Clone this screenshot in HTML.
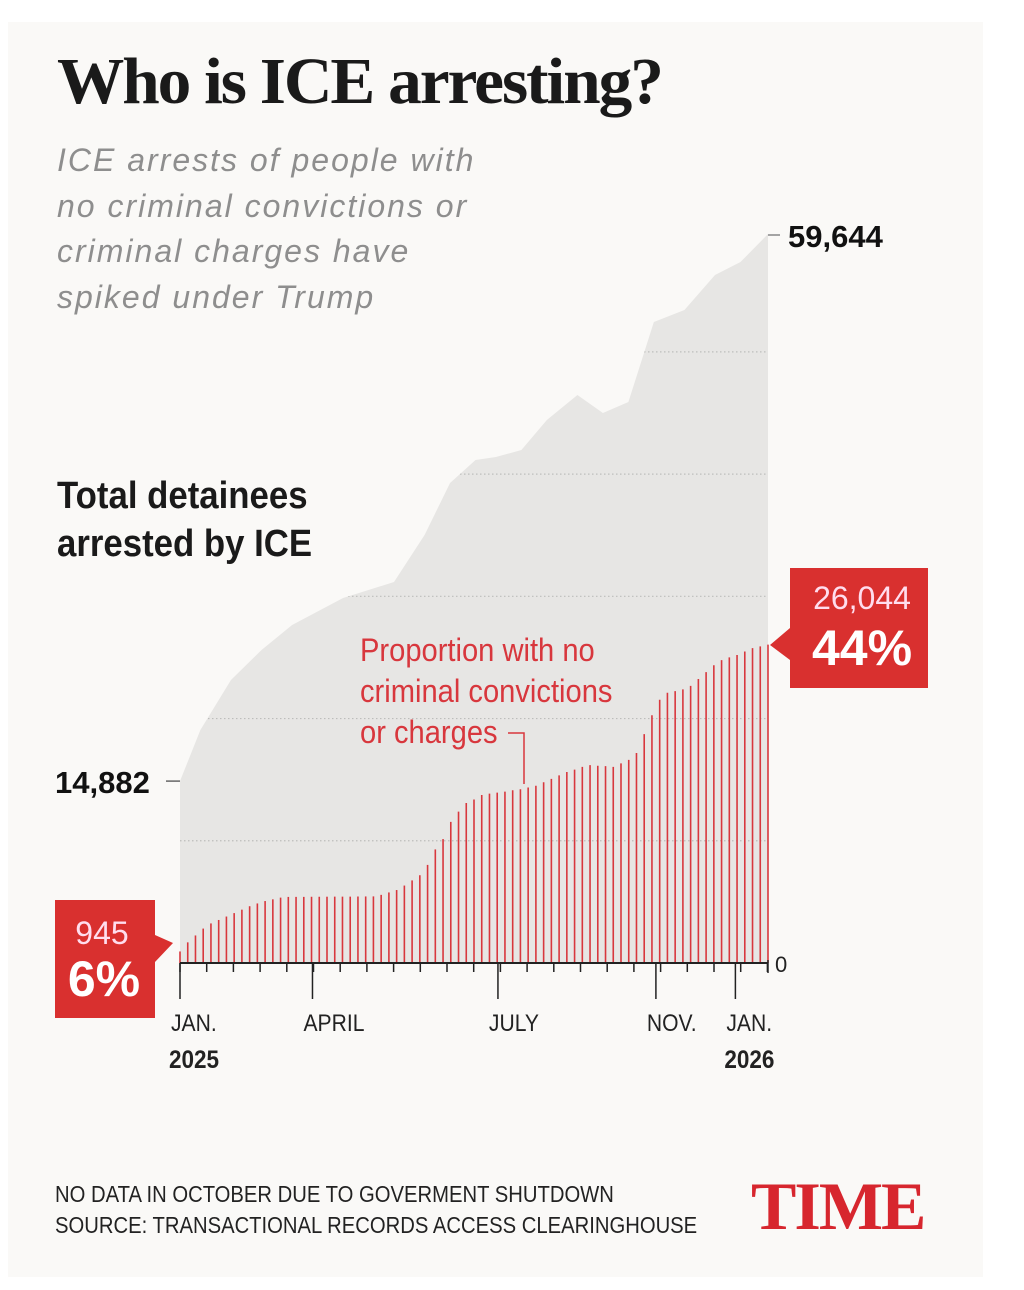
<!DOCTYPE html>
<html><head><meta charset="utf-8"><style>
body{margin:0;background:#fff;}
#card{position:absolute;left:8px;top:22px;width:975px;height:1255px;background:#faf9f7;}
.t{position:absolute;white-space:nowrap;}
</style></head><body>
<div id="card"></div>
<div class="t" style="left:57px;top:44px;font:bold 66px 'Liberation Serif',serif;letter-spacing:-2px;color:#1a1a1a;transform:scaleX(1.02);transform-origin:left;">Who is ICE arresting?</div>
<div class="t" style="left:57px;top:138px;font:italic 32px/45.5px 'Liberation Sans',sans-serif;letter-spacing:2px;color:#8e8e8e;">ICE arrests of people with<br>no criminal convictions or<br>criminal charges have<br>spiked under Trump</div>
<svg id="chart" width="1024" height="1290" style="position:absolute;left:0;top:0"></svg>
<div class="t" style="left:57px;top:472px;font:bold 38px/48px 'Liberation Sans',sans-serif;color:#1a1a1a;transform:scaleX(0.915);transform-origin:left;">Total detainees<br>arrested by ICE</div>
<div class="t" style="left:360px;top:630px;font:32px/41px 'Liberation Sans',sans-serif;color:#d8373d;transform:scaleX(0.91);transform-origin:left;">Proportion with no<br>criminal convictions<br>or charges</div>
<div class="t" style="left:55px;top:1179px;font:23px/31px 'Liberation Sans',sans-serif;color:#222;transform:scaleX(0.88);transform-origin:left;">NO DATA IN OCTOBER DUE TO GOVERMENT SHUTDOWN<br>SOURCE: TRANSACTIONAL RECORDS ACCESS CLEARINGHOUSE</div>
<div class="t" style="left:751px;top:1167px;font:bold 68px 'Liberation Serif',serif;color:#d7262e;letter-spacing:-2px;">TIME</div>
<script>
const totalWeeks=[0,2,5,8,11,16,21,24,26.5,29,31,33.5,36,39,41.5,44,46.5,49.5,52.5,55,57.7];
const totalValues=[14882,19063,23153,25607,27653,29862,31171,35016,39270,41152,41397,41970,44424,46470,44997,45897,52442,53424,56287,57351,59644];
const noCrimValues=[945,1690,2253,2816,3238,3520,3802,4083,4365,4646,4872,5069,5210,5350,5407,5410,5415,5420,5420,5425,5430,5430,5435,5440,5445,5450,5576,5773,5970,6336,6758,7181,8026,9293,10138,11546,12390,13094,13376,13742,13855,13939,14024,14136,14220,14362,14502,14784,15066,15347,15629,15826,16051,16192,16136,16107,16051,16333,16614,17178,18726,20275,21542,22106,22246,22387,22669,23232,23795,24358,24781,25006,25203,25485,25766,25907,26044];
const gridValues=[10000,20000,30000,40000,50000];
const majorTicks=[{w:0,l:"JAN.",y:"2025"},{w:13,l:"APRIL",y:""},{w:31.2,l:"JULY",y:""},{w:46.7,l:"NOV.",y:""},{w:54.5,l:"JAN.",y:"2026"}];
const X0=180,X1=768,Y0=963,MAXW=57.7;
const xs=w=>X0+(X1-X0)*w/MAXW;
const ys=v=>Y0-v*(963-234)/59644;
const svg=document.getElementById('chart');
const NS='http://www.w3.org/2000/svg';
function mk(tag,at){const e=document.createElementNS(NS,tag);for(const k in at)e.setAttribute(k,at[k]);svg.appendChild(e);return e;}
let d='M'+xs(0)+','+Y0;
totalWeeks.forEach((w,i)=>{d+=' L'+xs(w)+','+ys(totalValues[i]);});
d+=' L'+xs(MAXW)+','+Y0+' Z';
const defs=mk('defs',{});
const cp=document.createElementNS(NS,'clipPath');cp.setAttribute('id','areaclip');
const cpp=document.createElementNS(NS,'path');cpp.setAttribute('d',d);cp.appendChild(cpp);defs.appendChild(cp);
let a=mk('path',{d:d,fill:'#e7e6e4'});


gridValues.forEach(v=>{
 let g=mk('line',{x1:X0,x2:X1,y1:ys(v),y2:ys(v),stroke:'#bdbdbb',"stroke-width":1.2,"stroke-dasharray":"1.5,2.5","clip-path":"url(#areaclip)"});
 
 
});
const n=noCrimValues.length;
noCrimValues.forEach((v,i)=>{
 const x=X0+(X1-X0)*i/(n-1);
 let b=mk('line',{x1:x,x2:x,y1:Y0,y2:ys(v),stroke:'#d8373d',"stroke-width":1.6});
 
 
});
let ax=mk('line',{x1:X0,x2:X1,y1:Y0,y2:Y0,stroke:'#222',"stroke-width":2});


for(let x=X0;x<=X1+1;x+=26.7){
 let t=mk('line',{x1:x,x2:x,y1:Y0,y2:Y0+9,stroke:'#222',"stroke-width":1.5});
 
 
}
mk('line',{x1:X1,x2:X1,y1:Y0-3,y2:Y0+10,stroke:'#222',"stroke-width":1.5});
majorTicks.forEach(m=>{
 const x=xs(m.w);
 let t=mk('line',{x1:x,x2:x,y1:Y0,y2:Y0+36,stroke:'#222',"stroke-width":1.5});
 
 
 let tx=mk('text',{x:x-9,y:1031,"font-family":"Liberation Sans, sans-serif","font-size":24,fill:'#222',transform:`translate(${(x-9)*0.12},0) scale(0.88,1)`});
 tx.textContent=m.l;
 
 
 if(m.y){let ty=mk('text',{x:x-11,y:1068,"font-family":"Liberation Sans, sans-serif","font-weight":"bold","font-size":25,fill:'#222',transform:`translate(${(x-11)*0.1},0) scale(0.9,1)`});
 ty.textContent=m.y;
 
 }
});
let z=mk('text',{x:775,y:972,"font-family":"Liberation Sans, sans-serif","font-size":22,fill:'#222'});z.textContent='0';


mk('path',{d:'M508,733 H524 V784',fill:'none',stroke:'#d8373d',"stroke-width":1.5});
mk('line',{x1:166,x2:X0,y1:ys(14882),y2:ys(14882),stroke:'#666',"stroke-width":1.5});
let l1=mk('text',{x:55,y:793,"font-family":"Liberation Sans, sans-serif","font-weight":"bold","font-size":31,fill:'#111'});l1.textContent='14,882';


mk('line',{x1:X1,x2:780,y1:235,y2:235,stroke:'#888',"stroke-width":1.5});
let l2=mk('text',{x:788,y:247,"font-family":"Liberation Sans, sans-serif","font-weight":"bold","font-size":31,fill:'#111'});l2.textContent='59,644';


let b1=mk('path',{d:'M55,900 H155 V935 L173,943 L155,962 V1018 H55 Z',fill:'#d9302f'});


let t1=mk('text',{x:102,y:944,"text-anchor":"middle","font-family":"Liberation Sans, sans-serif","font-size":32,fill:'#fde'});t1.textContent='945';
let t2=mk('text',{x:104,y:996,"text-anchor":"middle","font-family":"Liberation Sans, sans-serif","font-weight":"bold","font-size":50,fill:'#fff'});t2.textContent='6%';
let b2=mk('path',{d:'M790,568 H928 V688 H790 V660 L770,645 L790,628 Z',fill:'#d9302f'});


let t3=mk('text',{x:862,y:609,"text-anchor":"middle","font-family":"Liberation Sans, sans-serif","font-size":32,fill:'#fde'});t3.textContent='26,044';
let t4=mk('text',{x:862,y:665,"text-anchor":"middle","font-family":"Liberation Sans, sans-serif","font-weight":"bold","font-size":50,fill:'#fff'});t4.textContent='44%';
</script>
</body></html>
